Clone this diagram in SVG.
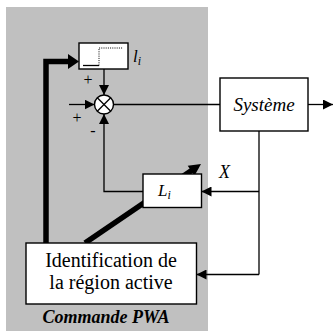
<svg xmlns="http://www.w3.org/2000/svg" width="334" height="334" viewBox="0 0 334 334">
<style>
.box{fill:#fff;stroke:#000;stroke-width:1.4}
.ln{fill:none;stroke:#000;stroke-width:1.3}
.thick{fill:none;stroke:#000;stroke-width:5.5}
</style>
<defs>
<marker id="ah" markerWidth="10" markerHeight="10" refX="10" refY="5" orient="auto" markerUnits="userSpaceOnUse">
<path d="M0,0 L10,5 L0,10 Z" fill="#000"/>
</marker>
</defs>
<rect x="6" y="7" width="202" height="324" fill="#c0c0c0"/>
<g id="connectors">
<polyline class="thick" points="46,243 46,61.5 70,61.5"/>
<path d="M68,54 L79,61.5 L68,69 Z" fill="#000"/>
<line class="thick" x1="85" y1="243" x2="193" y2="169.5"/>
<path d="M201,164 L187.7,165.8 L194.5,175.8 Z" fill="#000"/>
<line class="ln" x1="104" y1="69" x2="104" y2="95" marker-end="url(#ah)"/>
<line class="ln" x1="69" y1="104.5" x2="94.5" y2="104.5" marker-end="url(#ah)"/>
<polyline class="ln" points="143,191.5 104,191.5 104,114" marker-end="url(#ah)"/>
<line class="ln" x1="113.5" y1="104.5" x2="220" y2="104.5"/>
<line class="ln" x1="308" y1="104.5" x2="333" y2="104.5" marker-end="url(#ah)"/>
<line class="ln" x1="259" y1="131" x2="259" y2="274.5"/>
<line class="ln" x1="259" y1="191.5" x2="201.5" y2="191.5" marker-end="url(#ah)"/>
<line class="ln" x1="259" y1="274.5" x2="196.5" y2="274.5" marker-end="url(#ah)"/>
</g>
<g font-family="Liberation Serif, Times New Roman, serif" fill="#000">
<g id="step">
<rect class="box" x="79" y="43" width="49" height="26"/>
<line x1="83" y1="65.5" x2="99" y2="65.5" stroke="#000" stroke-width="1.3"/>
<polyline points="99,65.5 99,48 123,48" fill="none" stroke="#000" stroke-width="1" stroke-dasharray="1,1.2"/>
<text font-style="italic" x="133" y="62" font-size="17">l<tspan font-size="12" dy="3">i</tspan></text>
</g>
<g id="sum">
<circle cx="104" cy="104.5" r="9.5" fill="#fff" stroke="#000" stroke-width="1.4"/>
<line class="ln" x1="97.3" y1="97.8" x2="110.7" y2="111.2"/>
<line class="ln" x1="110.7" y1="97.8" x2="97.3" y2="111.2"/>
<text font-size="16" x="88" y="85" text-anchor="middle">+</text>
<text font-size="16" x="77" y="123" text-anchor="middle">+</text>
<text font-size="16" x="93" y="136" text-anchor="middle">-</text>
</g>
<g id="systeme">
<rect class="box" x="220" y="78" width="88" height="53"/>
<text font-style="italic" x="264" y="110.5" font-size="19" text-anchor="middle">Système</text>
</g>
<g id="li">
<rect class="box" x="143" y="174" width="58.5" height="33.5"/>
<text font-style="italic" x="158" y="196" font-size="17">L<tspan font-size="12" dy="3">i</tspan></text>
<text font-style="italic" x="219" y="178" font-size="18">X</text>
</g>
<g id="identification">
<rect class="box" x="26" y="243" width="170.5" height="61"/>
<text x="111" y="267" font-size="20" text-anchor="middle">Identification de</text>
<text x="111" y="289" font-size="20" text-anchor="middle">la région active</text>
</g>
<text font-style="italic" x="106" y="323" font-size="18" font-weight="bold" text-anchor="middle">Commande PWA</text>
</g>
</svg>
